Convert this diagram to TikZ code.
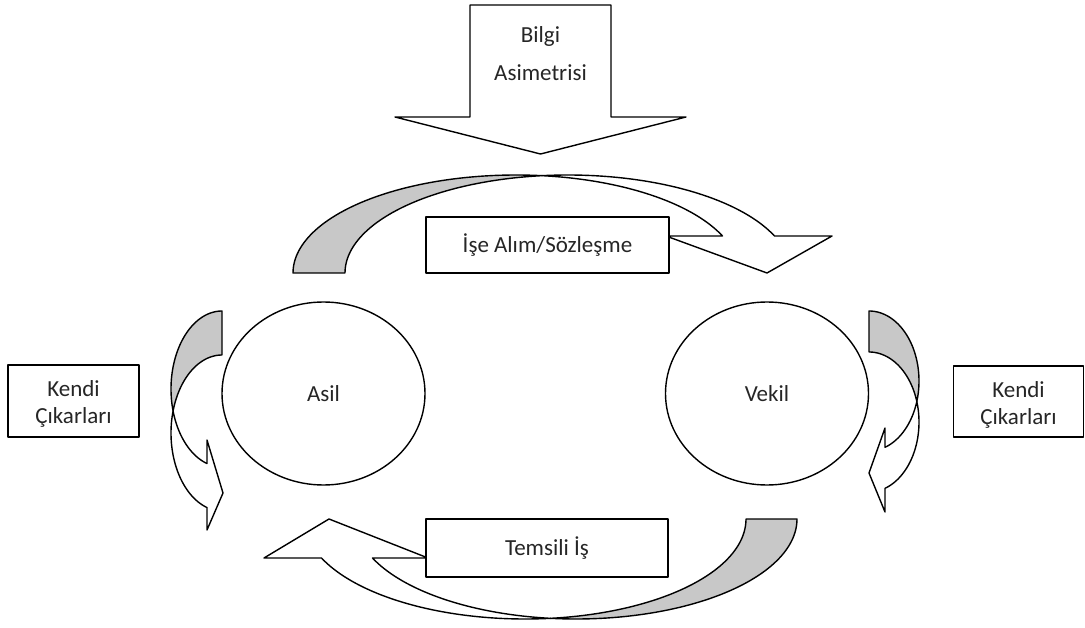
\documentclass[tikz,border=0pt]{standalone}
\usepackage{fontspec}
\setmainfont{Carlito}
\usetikzlibrary{shapes.geometric}
\definecolor{bandgray}{RGB}{200,200,200}
\definecolor{inkgray}{RGB}{38,38,38}
% elliptical arc as a sampled plot: {cx}{cy}{rx}{ry}{from angle}{to angle}
\newcommand{\earc}[6]{plot[domain=#5:#6,samples=60] ({#1+#3*cos(\x)},{#2+#4*sin(\x)})}
% the same arc, joined to the current path by a straight segment
\newcommand{\earcto}[6]{-- plot[domain=#5:#6,samples=60] ({#1+#3*cos(\x)},{#2+#4*sin(\x)})}
\tikzset{
  outline/.style={draw=black, line width=1.4pt, line join=round},
  backband/.style={outline, fill=bandgray},
  frontband/.style={outline, fill=white},
  lbl/.style={text=inkgray, font=\fontsize{23}{27}\selectfont},
  lbox/.style={lbl, outline, fill=white, inner sep=0pt},
  actor/.style={lbl, ellipse, outline, fill=white, inner sep=0pt,
    minimum width=203pt, minimum height=183pt}
}
\begin{document}
\begin{tikzpicture}[x=1pt,y=-1pt]
\useasboundingbox (0,0) rectangle (1085,628);

% information asymmetry: downward block arrow
\draw[frontband] (470,5) -- (611,5) -- (611,117) -- (686,117) -- (540.5,154)
  -- (395,117) -- (470,117) -- cycle;
\node[lbl, align=center, font=\fontsize{23}{38}\selectfont] (bilgi) at (540.5,54)
  {Bilgi\\Asimetrisi};

% hiring / contract: curved arrow from principal over to agent
\draw[backband] \earc{516}{273}{223}{98}{180}{276.7}
  \earcto{568}{273}{223}{98}{263.3}{180} -- cycle;
\draw[frontband] \earc{568}{273}{223}{98}{263.3}{337.8}
  -- (832,236) -- (767,273) -- (666,236)
  \earcto{516}{273}{223}{98}{337.8}{276.7} -- cycle;

% representation: curved arrow from agent back to principal
\draw[backband] \earc{576}{519}{221}{100}{0}{96.6}
  \earcto{525}{519}{221}{100}{83.4}{0} -- cycle;
\draw[frontband] \earc{525}{519}{221}{100}{83.4}{157.05}
  -- (264,558) -- (329,519) -- (428,558)
  \earcto{576}{519}{221}{100}{157.05}{96.6} -- cycle;

% self-interest loop on the principal's side
\draw[backband] \earc{222}{389}{51}{78}{270}{163.6}
  \earcto{222}{433}{51}{78}{196.4}{270} -- cycle;
\draw[frontband] \earc{222}{433}{51}{78}{196.4}{107.1}
  -- (207,530) -- (223,493) -- (207,440)
  \earcto{222}{389}{51}{78}{107.1}{163.6} -- cycle;

% self-interest loop on the agent's side
\draw[backband] \earc{869}{381}{50}{70}{-90}{17}
  \earcto{869}{422}{50}{70}{-17}{-90} -- cycle;
\draw[frontband] \earc{869}{422}{50}{70}{-17}{71.3}
  -- (885,512) -- (869,473) -- (885,428)
  \earcto{869}{381}{50}{70}{71.3}{17} -- cycle;

% the two parties
\node[actor] (asil) at (323.5,393.5) {Asil};
\node[actor] (vekil) at (767,393.5) {Vekil};

% labels in boxes
\node[lbox, minimum width=243pt, minimum height=56pt] (hire) at (547.5,245)
  {İşe Alım/Sözleşme};
\node[lbox, minimum width=242pt, minimum height=58pt] (work) at (547,548)
  {Temsili İş};
\node[lbox, minimum width=131pt, minimum height=72pt] (selfl) at (73.5,401) {};
\node[lbl, align=center] (selfltext) at (73.5,404) {Kendi\\Çıkarları};
\node[lbox, minimum width=130pt, minimum height=71pt] (selfr) at (1018.5,401.5) {};
\node[lbl, align=center] (selfrtext) at (1018.5,404.5) {Kendi\\Çıkarları};
\end{tikzpicture}
\end{document}
